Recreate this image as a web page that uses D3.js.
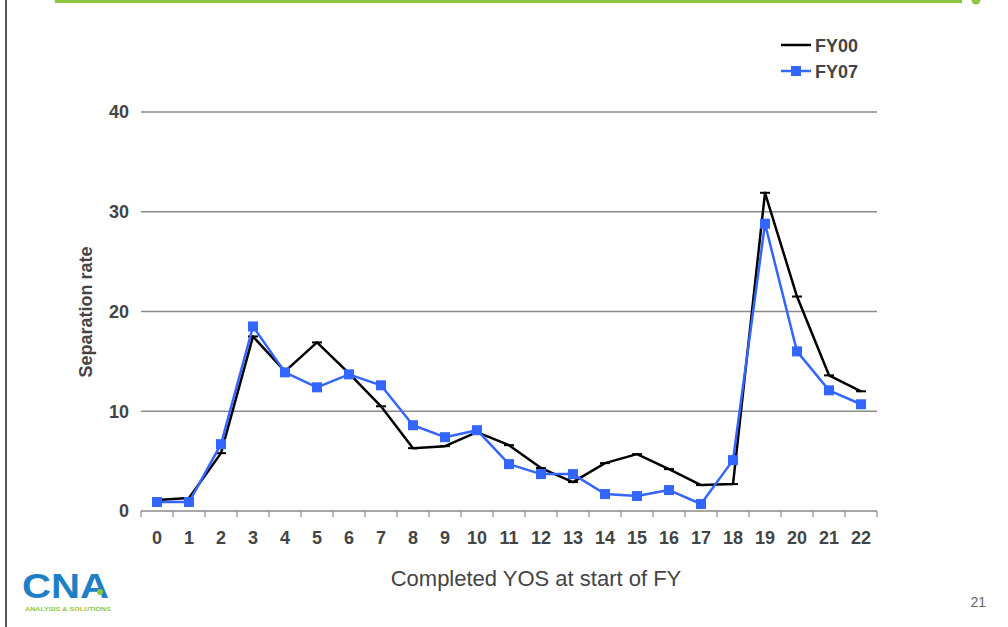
<!DOCTYPE html>
<html>
<head>
<meta charset="utf-8">
<script src="https://cdn.jsdelivr.net/npm/d3@7"></script>
<style>
  html, body { margin: 0; padding: 0; background: #fff; }
  svg { display: block; font-family: "Liberation Sans", Arial, sans-serif; }
</style>
</head>
<body>
<svg id="chart" width="1008" height="627"></svg>
<script>
const categories = ["0","1","2","3","4","5","6","7","8","9","10","11","12","13","14","15","16","17","18","19","20","21","22"];
const fy00 = [1.1, 1.3, 5.8, 17.5, 14.0, 16.9, 13.8, 10.5, 6.3, 6.5, 7.9, 6.6, 4.3, 2.9, 4.8, 5.7, 4.2, 2.6, 2.7, 31.9, 21.5, 13.6, 12.0];
const fy07 = [0.9, 0.9, 6.7, 18.5, 13.9, 12.4, 13.7, 12.6, 8.6, 7.4, 8.1, 4.7, 3.7, 3.7, 1.7, 1.5, 2.1, 0.7, 5.1, 28.8, 16.0, 12.1, 10.7];
const yTicks = [0, 10, 20, 30, 40];
const seriesNames = ["FY00", "FY07"];

const svg = d3.select("#chart");
const textColor = "#444";

// Slide decorations
svg.append("line").attr("x1", 6).attr("x2", 6).attr("y1", 0).attr("y2", 627)
  .attr("stroke", "#222").attr("stroke-width", 1.5);
svg.append("rect").attr("x", 55).attr("y", 0).attr("width", 907).attr("height", 3).attr("fill", "#8dc63f");
svg.append("circle").attr("cx", 976).attr("cy", 0).attr("r", 4.5).attr("fill", "#8dc63f");

const x = d3.scaleBand().domain(categories).range([141, 877]).padding(0);
const y = d3.scaleLinear().domain([0, 40]).range([511, 112]);

// Gridlines
svg.append("g").selectAll("line").data(yTicks.filter(d => d > 0)).join("line")
  .attr("x1", 141).attr("x2", 877)
  .attr("y1", d => y(d)).attr("y2", d => y(d))
  .attr("stroke", "#8a8a8a").attr("stroke-width", 1.5);

// Y axis labels
const yAxis = d3.axisLeft(y).tickValues(yTicks).tickSize(0).tickPadding(12);
const gy = svg.append("g").attr("transform", "translate(141,0)").call(yAxis);
gy.select(".domain").remove();
gy.selectAll("text").attr("font-size", 18).attr("font-weight", "bold").attr("fill", textColor)
  .attr("font-family", "Liberation Sans, Arial, sans-serif");

// X axis
svg.append("line").attr("x1", 141).attr("x2", 877).attr("y1", y(0)).attr("y2", y(0))
  .attr("stroke", "#8a8a8a").attr("stroke-width", 1.5);
const boundaries = categories.map(c => x(c)).concat([x(categories[categories.length - 1]) + x.bandwidth()]);
svg.append("g").selectAll("line").data(boundaries).join("line")
  .attr("x1", d => d).attr("x2", d => d).attr("y1", y(0)).attr("y2", y(0) + 6)
  .attr("stroke", "#8a8a8a").attr("stroke-width", 1.2);
const xAxis = d3.axisBottom(x).tickSize(0).tickPadding(20);
const gx = svg.append("g").attr("transform", `translate(0,${y(0)})`).call(xAxis);
gx.select(".domain").remove();
gx.selectAll("text").attr("font-size", 18).attr("font-weight", "bold").attr("fill", textColor)
  .attr("font-family", "Liberation Sans, Arial, sans-serif");

// Axis titles
svg.append("text").attr("x", 536).attr("y", 586).attr("text-anchor", "middle")
  .attr("font-size", 22).attr("fill", textColor).text("Completed YOS at start of FY");
svg.append("text").attr("transform", "translate(92,312) rotate(-90)").attr("text-anchor", "middle")
  .attr("font-size", 18).attr("font-weight", "bold").attr("fill", textColor).text("Separation rate");

const cx = d => x(d) + x.bandwidth() / 2;
const line = d3.line().x((d, i) => cx(categories[i])).y(d => y(d));

// FY00 line
svg.append("path").datum(fy00).attr("d", line).attr("fill", "none")
  .attr("stroke", "#000").attr("stroke-width", 2.5).attr("stroke-linejoin", "round");
svg.append("g").selectAll("line").data(fy00).join("line")
  .attr("x1", (d, i) => cx(categories[i]) - 5).attr("x2", (d, i) => cx(categories[i]) + 5)
  .attr("y1", d => y(d)).attr("y2", d => y(d))
  .attr("stroke", "#000").attr("stroke-width", 2);

// FY07 line
const blue = "#3366ff";
svg.append("path").datum(fy07).attr("d", line).attr("fill", "none")
  .attr("stroke", blue).attr("stroke-width", 2.5).attr("stroke-linejoin", "round");
svg.append("g").selectAll("rect").data(fy07).join("rect")
  .attr("x", (d, i) => cx(categories[i]) - 5).attr("y", d => y(d) - 5)
  .attr("width", 10).attr("height", 10).attr("fill", blue);

// Legend
const lg = svg.append("g");
seriesNames.forEach((name, i) => {
  const ly = 45 + i * 26;
  lg.append("line").attr("x1", 781).attr("x2", 811).attr("y1", ly).attr("y2", ly)
    .attr("stroke", i === 0 ? "#000" : blue).attr("stroke-width", 2.5);
  if (i === 1) {
    lg.append("rect").attr("x", 791).attr("y", ly - 5).attr("width", 10).attr("height", 10).attr("fill", blue);
  }
  lg.append("text").attr("x", 815).attr("y", ly + 6.5).attr("font-size", 18).attr("font-weight", "bold")
    .attr("fill", textColor).text(name);
});

// Logo
svg.append("text").attr("x", 22).attr("y", 598).attr("font-size", 35).attr("font-weight", "bold")
  .attr("fill", "#1f7fc6").attr("textLength", 87).attr("lengthAdjust", "spacingAndGlyphs").text("CNA");
svg.append("circle").attr("cx", 100).attr("cy", 592).attr("r", 3).attr("fill", "#8dc63f");
svg.append("text").attr("x", 25).attr("y", 611).attr("font-size", 6).attr("font-weight", "bold")
  .attr("fill", "#8dc63f").attr("textLength", 86).attr("lengthAdjust", "spacingAndGlyphs")
  .text("ANALYSIS & SOLUTIONS");

// Page number
svg.append("text").attr("x", 986).attr("y", 607).attr("text-anchor", "end")
  .attr("font-size", 14).attr("fill", "#666").text("21");
</script>
</body>
</html>
